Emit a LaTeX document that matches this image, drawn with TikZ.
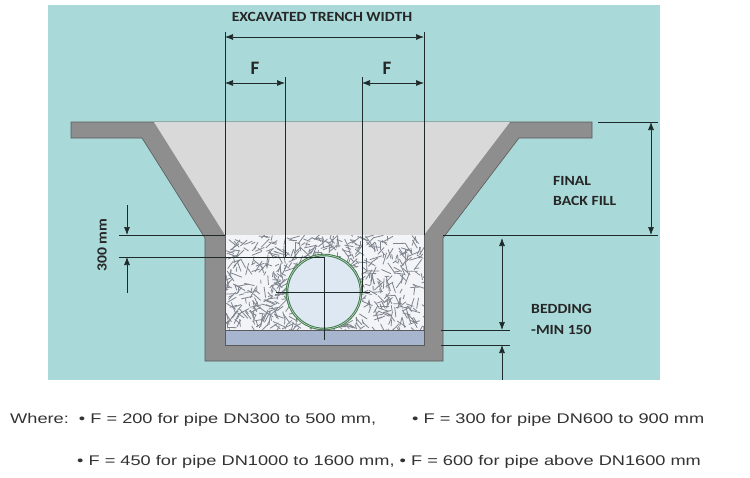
\documentclass[tikz,border=0pt]{standalone}
\usepackage{fontspec}
\setmainfont{Liberation Sans}
\newfontfamily\lbl{Carlito}
\usetikzlibrary{arrows.meta}
\definecolor{teal}{HTML}{A9D9D8}
\definecolor{wall}{HTML}{8E8E8E}
\definecolor{wallline}{HTML}{5A5A5A}
\definecolor{fillg}{HTML}{D9D9D9}
\definecolor{grav}{HTML}{F2F4F7}
\definecolor{crack}{HTML}{7F858E}
\definecolor{bed}{HTML}{A8B5CE}
\definecolor{pipein}{HTML}{DDE8F3}
\definecolor{pipering}{HTML}{3E7A4A}
\definecolor{dim}{HTML}{1E2A2A}
\newcommand{\wide}[1]{\scalebox{1.3}[1]{#1}}
\newcommand{\lwide}[1]{\scalebox{1.12}[1]{#1}}
\tikzset{
  dimline/.style={draw=dim,line width=0.7pt},
  dimarr/.style={dimline,-{Latex[length=8pt,width=6pt]}},
  dimarrs/.style={dimline,{Latex[length=8pt,width=6pt]}-{Latex[length=8pt,width=6pt]}},
  lab/.style={font=\lbl\bfseries\fontsize{14}{16}\selectfont,text=black!85,inner sep=0pt},
  foot/.style={font=\fontsize{14}{16}\selectfont,text=black!80,anchor=west,inner sep=0pt}
}
\begin{document}
\begin{tikzpicture}[x=1pt,y=-1pt]
\useasboundingbox (0,0) rectangle (750,477);
\fill[white] (0,0) rectangle (750,477);
\fill[teal] (48,5) rectangle (660,380);
% wall / ground
\filldraw[fill=wall,draw=wallline,line width=0.6pt]
 (71,122)--(592,122)--(592,138)--(519,138)--(443,238)--(443,361)--(205,361)--(205,238)--(142,138)--(71,138)--cycle;
% backfill
\fill[fillg] (154,122)--(510,122)--(424,235)--(225,235)--cycle;
% gravel
\begin{scope}
\clip (225,235) rectangle (424,330);
\fill[grav] (225,235) rectangle (424,330);
\pgfmathsetseed{7}
\foreach \i in {1,...,700}{
  \pgfmathsetmacro{\xa}{225+rnd*199}
  \pgfmathsetmacro{\ya}{235+rnd*95}
  \pgfmathsetmacro{\an}{rnd*360}
  \pgfmathsetmacro{\le}{4+rnd*9}
  \draw[crack,line width=0.8pt] (\xa,\ya) -- ++(\an:\le);
}
\end{scope}
% bedding
\fill[bed] (225,330) rectangle (424,345);
\draw[wallline,line width=0.8pt] (225,330)--(424,330);
\draw[wallline,line width=0.6pt] (225,235)--(225,345)--(424,345)--(424,235);
% pipe
\filldraw[fill=pipein,draw=pipering,line width=2.5pt] (324,292) circle (37);
\draw[white!70!pipering,line width=0.6pt] (324,292) circle (37);
% crosshair
\coordinate (ch1) at (276,292); \coordinate (ch2) at (370,292);
\coordinate (cv1) at (324,257); \coordinate (cv2) at (324,340);
\draw[dim,line width=0.8pt] (ch1)--(ch2) (cv1)--(cv2);
% vertical extension lines
\coordinate (tl) at (225,32); \coordinate (tlb) at (225,235);
\coordinate (tr) at (424,32); \coordinate (trb) at (424,235);
\coordinate (fl) at (285,77); \coordinate (flb) at (285,257);
\coordinate (fr) at (362,77); \coordinate (frb) at (362,293);
\draw[dimline] (tl)--(tlb) (tr)--(trb) (fl)--(flb) (fr)--(frb);
% trench width
\coordinate (w1) at (225,37); \coordinate (w2) at (424,37);
\draw[dimarrs] (w1)--(w2);
\node[lab] (wt) at (322,17) {\lwide{EXCAVATED TRENCH WIDTH}};
% F dims
\coordinate (f1) at (225,83); \coordinate (f2) at (285,83);
\coordinate (f3) at (362,83); \coordinate (f4) at (424,83);
\draw[dimarrs] (f1)--(f2);
\draw[dimarrs] (f3)--(f4);
\node[lab,font=\lbl\bfseries\fontsize{19}{21}\selectfont] (fa) at (255,68) {F};
\node[lab,font=\lbl\bfseries\fontsize{19}{21}\selectfont] (fb) at (387,68) {F};
% 300 mm
\coordinate (h1a) at (119,235); \coordinate (h1b) at (225,235);
\coordinate (h2a) at (119,257); \coordinate (h2b) at (324,257);
\draw[dimline] (h1a)--(h1b) (h2a)--(h2b);
\coordinate (m1) at (127,205); \coordinate (m2) at (127,293);
\coordinate (m1e) at (127,235); \coordinate (m2e) at (127,257);
\draw[dimarr] (m1)--(m1e);
\draw[dimarr] (m2)--(m2e);
\node[lab,rotate=90] (mm) at (102,245) {\lwide{300 mm}};
% final back fill
\coordinate (b1) at (598,122); \coordinate (b2) at (658,122);
\coordinate (b3) at (443,235); \coordinate (b4) at (658,235);
\draw[dimline] (b1)--(b2) (b3)--(b4);
\coordinate (ba) at (651,122); \coordinate (bb) at (651,235);
\draw[dimarrs] (ba)--(bb);
\node[lab,anchor=west] (fbf1) at (553,181) {\lwide{FINAL}};
\node[lab,anchor=west] (fbf2) at (553,201) {\lwide{BACK FILL}};
% bedding
\coordinate (e1) at (441,330); \coordinate (e2) at (510,330);
\coordinate (e3) at (441,345); \coordinate (e4) at (510,345);
\draw[dimline] (e1)--(e2) (e3)--(e4);
\coordinate (d0) at (502,290); \coordinate (d1) at (502,238);
\coordinate (d2) at (502,330); \coordinate (d3) at (502,380); \coordinate (d4) at (502,345);
\draw[dimarr] (d0)--(d1);
\draw[dimarr] (d0)--(d2);
\draw[dimarr] (d3)--(d4);
\node[lab,anchor=west] (bd1) at (531,309) {\lwide{BEDDING}};
\node[lab,anchor=west] (bd2) at (531,330) {\lwide{-MIN 150}};
% footnotes
\node[foot] (n1) at (10,420) {\wide{Where:\ \ • F = 200 for pipe DN300 to 500 mm,}};
\node[foot] (n2) at (412,420) {\wide{• F = 300 for pipe DN600 to 900 mm}};
\node[foot] (n3) at (77,462) {\wide{• F = 450 for pipe DN1000 to 1600 mm, • F = 600 for pipe above DN1600 mm}};
\end{tikzpicture}
\end{document}
